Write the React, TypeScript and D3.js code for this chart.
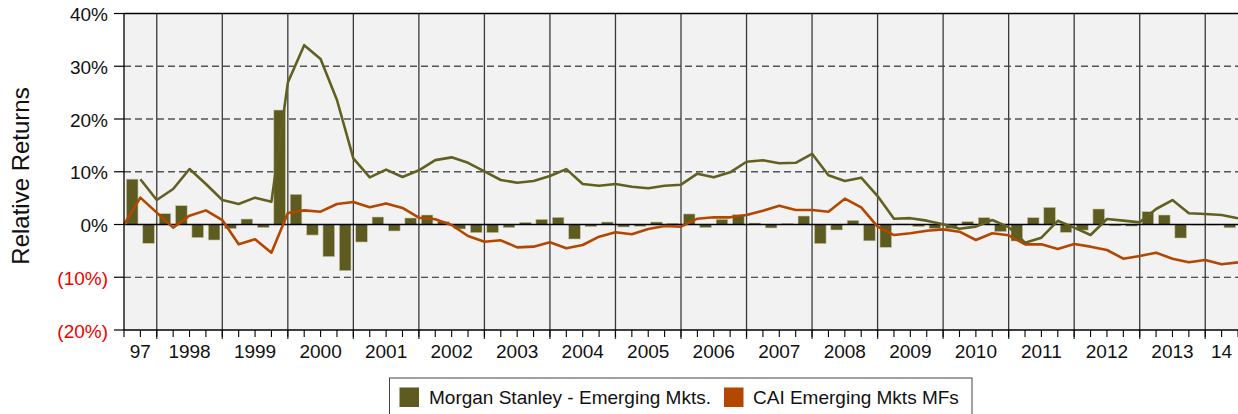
import React from "react";
import * as d3 from "d3";

// Quarterly relative returns (bars), 1997 Q3 .. 2014 Q2
const barValues: number[] = [
  8.6, -3.57, 2.05, 3.57, -2.49, -2.94, -0.79, 1.04, -0.6, 21.7,
  5.72, -2.0, -6.1, -8.76, -3.32, 1.42, -1.23, 1.23, 1.8, 0.54,
  -0.85, -1.55, -1.55, -0.6, 0.41, 0.98, 1.36, -2.75, -0.41, 0.47,
  -0.47, -0.35, 0.47, 0.22, 2.0, -0.6, 0.98, 1.87, 0.28, -0.66,
  0.2, 1.61, -3.63, -1.04, 0.79, -3.1, -4.33, 0.1, -0.41, -0.75,
  -0.8, 0.54, 1.3, -1.36, -3.13, 1.3, 3.25, -1.5, -1.07, 2.94,
  -0.25, -0.3, 2.43, 1.8, -2.56, -0.1, -0.1, -0.63,
];

// Cumulative relative return, Morgan Stanley - Emerging Mkts. (quarter ends)
const msLine: (number | null)[] = [
  null, 8.57, 4.64, 6.73, 10.52, 7.68, 4.64, 3.89, 5.09, 4.33,
  26.9, 34.0, 31.37, 23.6, 12.54, 8.94, 10.4, 9.0, 10.27, 12.2,
  12.73, 11.7, 10.08, 8.44, 7.93, 8.25, 9.19, 10.5, 7.68, 7.36,
  7.68, 7.17, 6.86, 7.36, 7.55, 9.64, 8.94, 9.89, 11.9, 12.17,
  11.6, 11.7, 13.4, 9.32, 8.25, 8.88, 5.4, 1.1, 1.2, 0.73,
  0.03, -0.8, -0.41, 0.85, -0.5, -3.44, -2.49, 0.7, -0.6, -2.0,
  1.04, 0.73, 0.41, 2.94, 4.64, 2.12, 2.0, 1.8, 1.17,
];

// CAI Emerging Mkts MFs (quarter ends)
const caiLine: number[] = [
  0, 5.09, 2.25, -0.6, 1.68, 2.68, 0.85, -3.76, -2.81, -5.34,
  2.18, 2.68, 2.43, 3.89, 4.27, 3.26, 4.0, 3.13, 1.29, 0.98,
  -0.1, -2.18, -3.26, -3.0, -4.33, -4.2, -3.38, -4.52, -3.89, -2.3,
  -1.48, -1.86, -0.85, -0.28, -0.4, 1.1, 1.36, 1.36, 1.8, 2.62,
  3.57, 2.75, 2.75, 2.43, 4.9, 3.25, -0.41, -2.0, -1.67, -1.17,
  -0.92, -1.36, -2.94, -1.67, -2.05, -3.76, -3.76, -4.64, -3.7, -4.2,
  -4.83, -6.48, -5.97, -5.34, -6.48, -7.17, -6.73, -7.55, -7.17,
];

const yearLabels: string[] = [
  "97", "1998", "1999", "2000", "2001", "2002", "2003", "2004", "2005",
  "2006", "2007", "2008", "2009", "2010", "2011", "2012", "2013", "14",
];
// quarter index at which each year label span starts / ends
const yearStarts: number[] = [0, 2, 6, 10, 14, 18, 22, 26, 30, 34, 38, 42, 46, 50, 54, 58, 62, 66];
const yearEnds: number[] = [2, 6, 10, 14, 18, 22, 26, 30, 34, 38, 42, 46, 50, 54, 58, 62, 66, 68];

const yTicks: number[] = [40, 30, 20, 10, 0, -10, -20];
const seriesNames: string[] = ["Morgan Stanley - Emerging Mkts.", "CAI Emerging Mkts MFs"];

const W = 1238;
const H = 414;
const FONT = "Arial, 'Liberation Sans', Helvetica, sans-serif";
const OLIVE = "#5d5b20";
const OLIVE_LINE = "#626020";
const ORANGE = "#b34700";

const fmtTick = (v: number) => (v < 0 ? `(${Math.abs(v)}%)` : `${v}%`);

export default function App() {
  const left = 124;
  const right = 1238;
  const top = 13.5;
  const bottom = 330;
  const nQ = barValues.length;

  const x = d3.scaleLinear().domain([0, nQ]).range([left, right]);
  const y = d3.scaleLinear().domain([-20, 40]).range([bottom, top]);

  const lineGen = d3
    .line<number | null>()
    .defined((d) => d !== null)
    .x((_, i) => x(i))
    .y((d) => y(d as number));

  const qw = x(1) - x(0);
  const bw = qw * 0.71;

  return (
    <svg
      width={W}
      height={H}
      style={{ position: "absolute", left: 0, top: 0, background: "#fff" }}
      fontFamily={FONT}
    >
      {/* plot background */}
      <rect x={left} y={top} width={right - left} height={bottom - top} fill="#f2f2f2" />

      {/* horizontal gridlines */}
      {yTicks
        .filter((t) => t !== 0 && t !== 40 && t !== -20)
        .map((t) => (
          <line
            key={`g${t}`}
            x1={left}
            x2={right}
            y1={y(t)}
            y2={y(t)}
            stroke={t < 0 ? "#222" : "#555"}
            strokeWidth={t < 0 ? 1.2 : 1.5}
            strokeDasharray="7,4"
          />
        ))}

      {/* vertical year lines */}
      {yearStarts.slice(1).map((q) => (
        <line
          key={`v${q}`}
          x1={x(q)}
          x2={x(q)}
          y1={top}
          y2={bottom + 9}
          stroke="#3a3a3a"
          strokeWidth={1.3}
        />
      ))}

      {/* bars */}
      {barValues.map((v, i) => (
        <rect
          key={`b${i}`}
          x={x(i + 0.5) - bw / 2}
          y={Math.min(y(v), y(0))}
          width={bw}
          height={Math.abs(y(v) - y(0))}
          fill={OLIVE}
          stroke="#c9c8a8"
          strokeWidth={0.6}
        />
      ))}

      {/* zero line */}
      <line x1={left} x2={right} y1={y(0)} y2={y(0)} stroke="#000" strokeWidth={1.5} />

      {/* lines */}
      <path d={lineGen(caiLine) || ""} fill="none" stroke={ORANGE} strokeWidth={2.6} strokeLinejoin="round" />
      <path d={lineGen(msLine) || ""} fill="none" stroke={OLIVE_LINE} strokeWidth={2.6} strokeLinejoin="round" />

      {/* frame */}
      <line x1={left} x2={right} y1={top} y2={top} stroke="#000" strokeWidth={1.3} />
      <line x1={left} x2={left} y1={top} y2={bottom} stroke="#000" strokeWidth={1.3} />
      <line x1={left} x2={right} y1={bottom} y2={bottom} stroke="#000" strokeWidth={1.3} />

      {/* y ticks & labels */}
      {yTicks.map((t) => (
        <g key={`yt${t}`}>
          <line x1={left - 10} x2={left} y1={y(t)} y2={y(t)} stroke="#000" strokeWidth={1.2} />
          <text
            x={108}
            y={y(t) + 7.5}
            textAnchor="end"
            fontSize={19}
            fill={t < 0 ? "#f00000" : "#111"}
          >
            {fmtTick(t)}
          </text>
        </g>
      ))}

      {/* x quarter ticks */}
      {d3.range(0, nQ + 1).map((q) => (
        <line
          key={`xt${q}`}
          x1={x(q)}
          x2={x(q)}
          y1={bottom}
          y2={bottom + 7}
          stroke="#000"
          strokeWidth={1.1}
        />
      ))}

      {/* year labels */}
      {yearLabels.map((lab, i) => (
        <text
          key={`yl${i}`}
          x={x((yearStarts[i] + yearEnds[i]) / 2)}
          y={358}
          textAnchor="middle"
          fontSize={19}
          fill="#111"
        >
          {lab}
        </text>
      ))}

      {/* y-axis title */}
      <text
        transform={`translate(29,176) rotate(-90)`}
        textAnchor="middle"
        fontSize={24}
        fill="#111"
      >
        Relative Returns
      </text>

      {/* legend */}
      <rect x={389.5} y={378} width={582.5} height={40} fill="#fff" stroke="#444" strokeWidth={1} />
      <rect x={399.5} y={387.5} width={19.5} height={19.5} fill={OLIVE} />
      <text x={429} y={404} fontSize={19} fill="#111">
        {seriesNames[0]}
      </text>
      <rect x={724} y={387.5} width={19.5} height={19.5} fill={ORANGE} />
      <text x={753} y={404} fontSize={19} fill="#111">
        {seriesNames[1]}
      </text>
    </svg>
  );
}
